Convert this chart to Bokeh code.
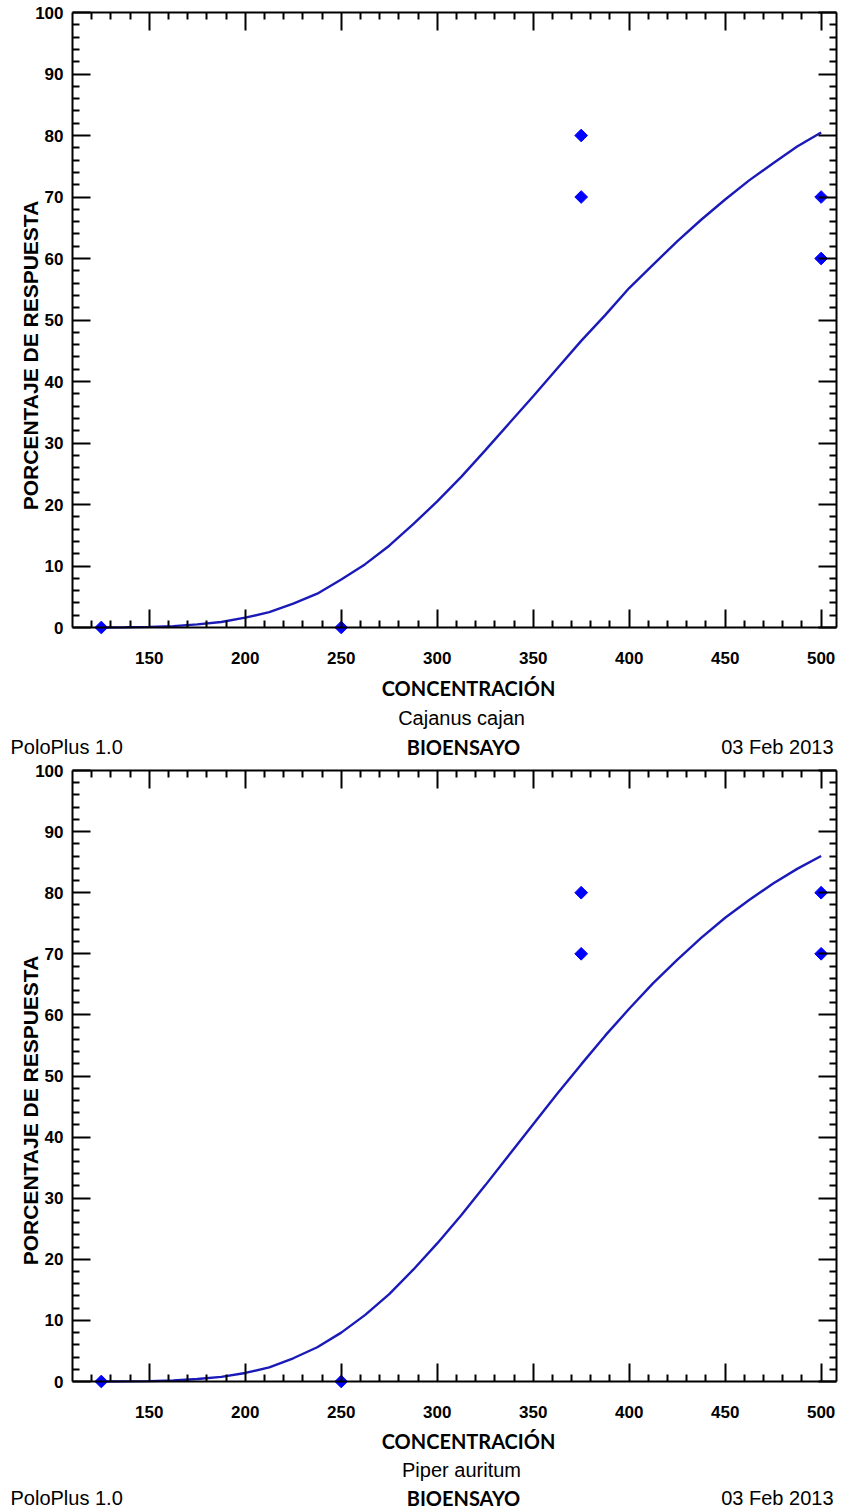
import math
from bokeh.plotting import figure
from bokeh.models import Range1d, FixedTicker, LinearAxis, Label, CustomJSTickFormatter
from bokeh.layouts import column
from bokeh.embed import file_html
from bokeh.resources import INLINE

# ---------------- data ----------------
conc_curve = [125, 137.5, 150, 162.5, 175, 187.5, 200, 212.5, 225, 237.5, 250, 262.5, 275, 287.5,
              300, 312.5, 325, 337.5, 350, 362.5, 375, 387.5, 400, 412.5, 425, 437.5, 450, 462.5,
              475, 487.5, 500]
resp_curve_cajanus = [0.0, 0.03, 0.1, 0.22, 0.5, 0.9, 1.6, 2.5, 3.9, 5.5, 7.8, 10.3, 13.3, 16.8,
                      20.5, 24.5, 28.8, 33.2, 37.6, 42.1, 46.6, 50.8, 55.2, 59.0, 62.8, 66.3, 69.6, 72.7,
                      75.5, 78.2, 80.5]
resp_curve_piper = [0.0, 0.02, 0.06, 0.16, 0.4, 0.75, 1.4, 2.3, 3.8, 5.6, 8.0, 10.9, 14.3, 18.3,
                    22.6, 27.2, 32.1, 37.1, 42.1, 47.1, 51.9, 56.6, 61.0, 65.2, 69.0, 72.6, 75.9, 78.8,
                    81.5, 83.9, 86.0]

conc_obs = [125, 250, 375, 375, 500, 500]
resp_obs_cajanus = [0, 0, 80, 70, 70, 60]
resp_obs_piper = [0, 0, 80, 70, 80, 70]

x_major_ticks = [150, 200, 250, 300, 350, 400, 450, 500]
x_minor_ticks = [120, 130, 140, 160, 170, 180, 190, 210, 220, 230, 240, 260, 270, 280, 290,
                 310, 320, 330, 340, 360, 370, 380, 390, 410, 420, 430, 440, 460, 470, 480, 490]
y_major_ticks = [0, 10, 20, 30, 40, 50, 60, 70, 80, 90, 100]
y_minor_ticks = [2, 4, 6, 8, 12, 14, 16, 18, 22, 24, 26, 28, 32, 34, 36, 38, 42, 44, 46, 48,
                 52, 54, 56, 58, 62, 64, 66, 68, 72, 74, 76, 78, 82, 84, 86, 88, 92, 94, 96, 98]

species_names = ["Cajanus cajan", "Piper auritum"]
x_title = "CONCENTRACIÓN"
y_title = "PORCENTAJE DE RESPUESTA"
software = "PoloPlus 1.0"
study = "BIOENSAYO"
date_text = "03 Feb 2013"

X0, X1 = 110, 508      # data extent of the axes box
Y0, Y1 = 0, 100
W = 843
FL, FR = 72, 836       # pixel columns of the left / right axis


def style_axis(ax, ticker, labels, bounds):
    ax.ticker = ticker
    ax.bounds = bounds
    ax.axis_line_width = 2
    ax.axis_line_color = "black"
    ax.major_tick_in = 18
    ax.major_tick_out = 0
    ax.major_tick_line_width = 2
    ax.major_tick_line_color = "black"
    ax.minor_tick_in = 7
    ax.minor_tick_out = 0
    ax.minor_tick_line_width = 2
    ax.minor_tick_line_color = "black"
    ax.major_label_text_font = "Liberation Sans"
    ax.major_label_text_font_style = "bold"
    ax.major_label_text_font_size = "17px"
    ax.major_label_text_color = "black"
    if not labels:
        ax.formatter = CustomJSTickFormatter(code="return ''")


def make_panel(curve_y, obs_y, species, H, top_px, bottom_px, text_y):
    xpp = (FR - FL) / (X1 - X0)
    ypp = (bottom_px - top_px) / (Y1 - Y0)
    xs = X0 - FL / xpp
    xe = X1 + (W - FR) / xpp
    ye = Y1 + top_px / ypp
    ys = Y0 - (H - bottom_px) / ypp

    p = figure(width=W, height=H, x_range=Range1d(xs, xe), y_range=Range1d(ys, ye),
               output_backend="svg", toolbar_location=None,
               x_axis_location=None, y_axis_location=None,
               min_border=0)
    p.grid.visible = False
    p.outline_line_color = None
    p.background_fill_color = "white"
    p.border_fill_color = "white"

    bottom_ax = LinearAxis(fixed_location=Y0)
    style_axis(bottom_ax, FixedTicker(ticks=x_major_ticks, minor_ticks=x_minor_ticks), True, (X0, X1))
    bottom_ax.major_label_standoff = 24
    p.add_layout(bottom_ax, "below")

    left_ax = LinearAxis(fixed_location=X0)
    style_axis(left_ax, FixedTicker(ticks=y_major_ticks, minor_ticks=y_minor_ticks), True, (Y0, Y1))
    left_ax.major_label_standoff = 9
    p.add_layout(left_ax, "left")

    top_ax = LinearAxis(fixed_location=Y1)
    style_axis(top_ax, FixedTicker(ticks=x_major_ticks, minor_ticks=x_minor_ticks), False, (X0, X1))
    p.add_layout(top_ax, "above")

    right_ax = LinearAxis(fixed_location=X1)
    style_axis(right_ax, FixedTicker(ticks=y_major_ticks, minor_ticks=y_minor_ticks), False, (Y0, Y1))
    p.add_layout(right_ax, "right")

    p.line(conc_curve, curve_y, line_color="#1A1AB8", line_width=2.4)
    p.scatter(conc_obs, obs_y, marker="square", size=9, angle=math.pi / 4,
              fill_color="#0000FF", line_color="#0000FF")

    def dx(px):
        return xs + px / xpp

    def dy(py):
        return ye - py / ypp

    cy_title, cy_species, cy_foot, cy_ylab = text_y

    p.add_layout(Label(x=dx(30), y=dy(cy_ylab), text=y_title, angle=math.pi / 2,
                       text_align="center", text_baseline="middle",
                       text_font="Liberation Sans", text_font_style="bold",
                       text_font_size="21px", text_color="black"))
    p.add_layout(Label(x=dx(468), y=dy(cy_title), text=x_title,
                       text_align="center", text_baseline="middle",
                       text_font="Lato", text_font_style="bold",
                       text_font_size="20px", text_color="black"))
    p.add_layout(Label(x=dx(461), y=dy(cy_species), text=species,
                       text_align="center", text_baseline="middle",
                       text_font="Liberation Sans", text_font_size="20px", text_color="black"))
    p.add_layout(Label(x=dx(10), y=dy(cy_foot), text=software,
                       text_align="left", text_baseline="middle",
                       text_font="Liberation Sans", text_font_size="20px", text_color="black"))
    p.add_layout(Label(x=dx(463), y=dy(cy_foot), text=study,
                       text_align="center", text_baseline="middle",
                       text_font="Lato", text_font_style="bold",
                       text_font_size="20px", text_color="black"))
    p.add_layout(Label(x=dx(833), y=dy(cy_foot), text=date_text,
                       text_align="right", text_baseline="middle",
                       text_font="Liberation Sans", text_font_size="20px", text_color="black"))
    return p


H1 = 759
H2 = 1512 - H1
p1 = make_panel(resp_curve_cajanus, resp_obs_cajanus, species_names[0], H1, 12, 627,
                (687, 717, 746, 355))
p2 = make_panel(resp_curve_piper, resp_obs_piper, species_names[1], H2, 770 - H1, 1381 - H1,
                (1440 - H1, 1469 - H1, 1497 - H1, 1110 - H1))

layout = column(p1, p2, spacing=0)
open("out.html", "w").write(file_html(layout, INLINE))
